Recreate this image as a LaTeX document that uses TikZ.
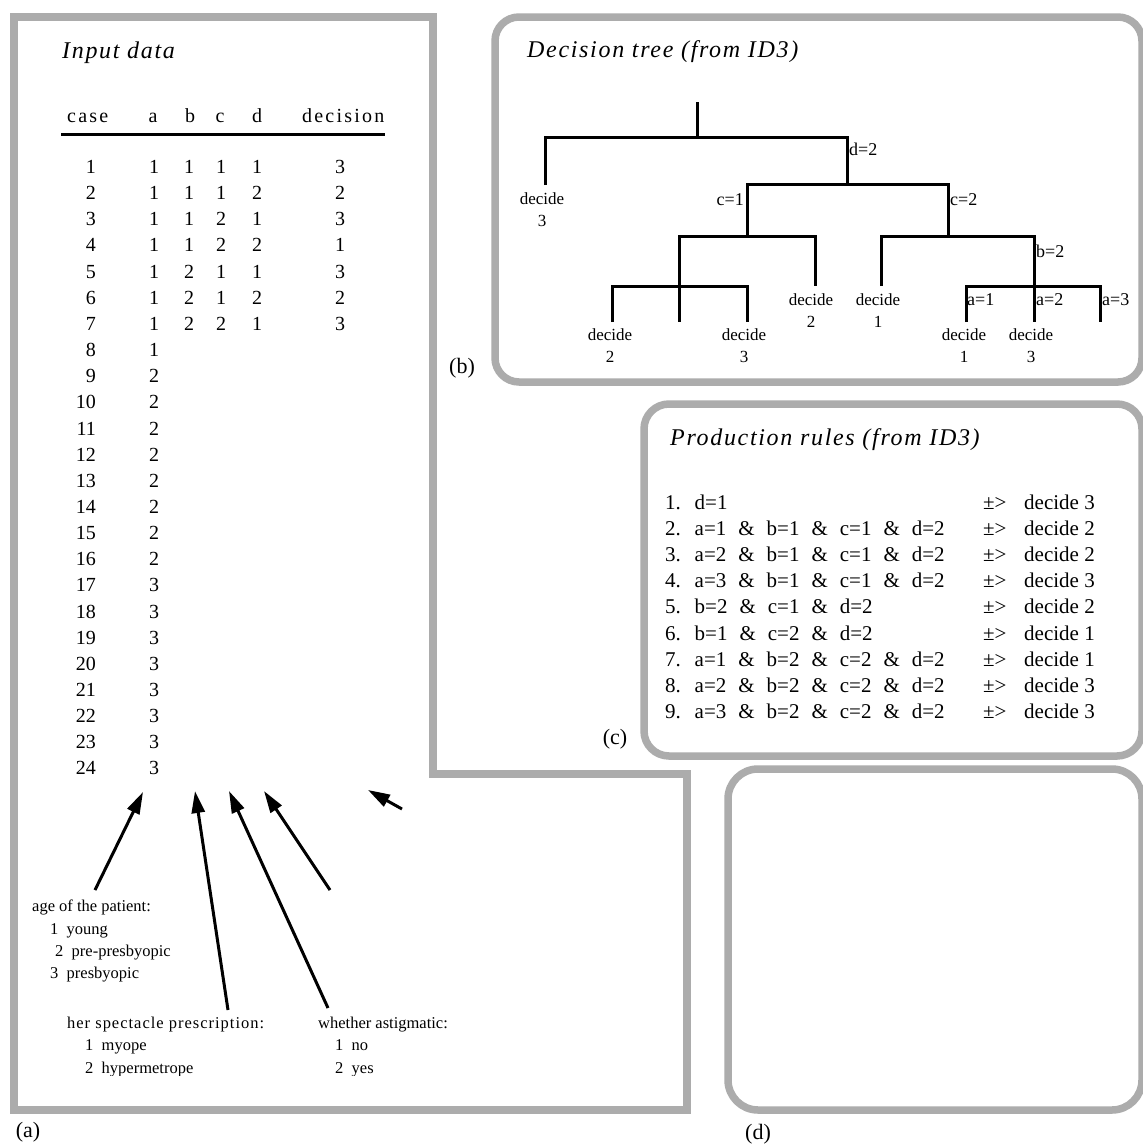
\documentclass[tikz,border=0pt]{standalone}
\usepackage{fontspec}
\setmainfont{Liberation Serif}
\newfontfamily\lsfont[LetterSpace=7]{Liberation Serif}
\newfontfamily\hdfont[LetterSpace=11]{Liberation Serif}
\newfontfamily\spfont[LetterSpace=6]{Liberation Serif}
\usetikzlibrary{arrows.meta}
\definecolor{panelgray}{RGB}{172,172,172}
\begin{document}
\begin{tikzpicture}[x=1pt,y=-1pt,
  panel/.style={draw=panelgray, line width=7.5pt},
  ptitle/.style={anchor=base west, inner sep=0, font=\fontsize{24}{28}\selectfont\lsfont\itshape},
  hdr/.style={anchor=base west, inner sep=0, font=\fontsize{20}{24}\selectfont\hdfont},
  cell/.style={anchor=base, inner sep=0, font=\fontsize{20}{24}\selectfont},
  branch/.style={line width=3pt},
  leaf/.style={align=center, inner sep=0, font=\fontsize{17}{22}\selectfont},
  cond/.style={inner sep=0, font=\fontsize{18}{20}\selectfont},
  note/.style={anchor=base west, inner sep=0, font=\fontsize{16.5}{20}\selectfont},
  rulel/.style={anchor=base west, inner sep=0, font={\fontsize{21}{25}\selectfont\spaceskip=12pt\relax}},
  ruler/.style={anchor=base west, inner sep=0, font=\fontsize{21}{25}\selectfont},
  plabel/.style={inner sep=0, font=\fontsize{22}{26}\selectfont},
  pointer/.style={line width=3pt, -{Triangle[length=22pt,width=13pt]}}
]
\useasboundingbox (0,0) rectangle (1143,1146);
\fill[white] (0,0) rectangle (1143,1146);

% ---------- panels ----------
\draw[panel] (14,17) -- (433,17) -- (433,774) -- (687,774) -- (687,1110) -- (14,1110) -- cycle;
\draw[panel, rounded corners=24pt] (495,17) rectangle (1142,382);
\draw[panel, rounded corners=25pt] (644,404) rectangle (1142,756);
\draw[panel, rounded corners=30pt] (728,769) rectangle (1142,1110);

\node[plabel] (la) at (28,1132) {(a)};
\node[plabel] (lb) at (462,368) {(b)};
\node[plabel] (lc) at (615,739) {(c)};
\node[plabel] (ld) at (758,1134) {(d)};

% ---------- (a) input data ----------
\node[ptitle] (tin) at (62,58) {Input data};
\node[hdr] (hcase) at (67,122) {case};
\node[hdr, anchor=base] (ha) at (153,122) {a};
\node[hdr, anchor=base] (hb) at (190,122) {b};
\node[hdr, anchor=base] (hc) at (220,122) {c};
\node[hdr, anchor=base] (hd) at (257,122) {d};
\node[hdr] (hdec) at (302,122) {decision};
\draw[line width=3pt] (61,134.5) -- (385,134.5);

\foreach \i in {1,...,24}{
  \pgfmathsetmacro\yy{173.5+(\i-1)*26.15}
  \pgfmathtruncatemacro\va{ifthenelse(\i<9,1,ifthenelse(\i<17,2,3))}
  \node[cell, anchor=base east] (case\i) at (96,\yy) {\i};
  \node[cell] (va\i) at (154,\yy) {\va};
}
\foreach \i/\vb/\vc/\vd/\ve in {1/1/1/1/3,2/1/1/2/2,3/1/2/1/3,4/1/2/2/1,5/2/1/1/3,6/2/1/2/2,7/2/2/1/3}{
  \pgfmathsetmacro\yy{173.5+(\i-1)*26.15}
  \node[cell] (vb\i) at (189,\yy) {\vb};
  \node[cell] (vc\i) at (221,\yy) {\vc};
  \node[cell] (vd\i) at (257,\yy) {\vd};
  \node[cell] (ve\i) at (340,\yy) {\ve};
}

% attribute notes
\node[note] (age) at (32,911) {age of the patient:};
\node[note] (age1) at (50,934) {1\enspace young};
\node[note] (age2) at (55,956) {2\enspace pre-presbyopic};
\node[note] (age3) at (50,978) {3\enspace presbyopic};
\begin{scope}
  \clip (20,980) rectangle (600,1075.5);
  \node[note, font=\fontsize{16.5}{20}\selectfont\spfont] (spec) at (67,1028) {her spectacle prescription:};
  \node[note] (spec1) at (85,1050) {1\enspace myope};
  \node[note] (spec2) at (85,1073) {2\enspace hypermetrope};
  \node[note] (ast) at (318,1028) {whether astigmatic:};
  \node[note] (ast1) at (335,1050) {1\enspace no};
  \node[note] (ast2) at (335,1073) {2\enspace yes};
\end{scope}

% pointers
\coordinate (t1) at (95,890);   \coordinate (h1) at (143,792);
\coordinate (t2) at (228,1010); \coordinate (h2) at (195,791);
\coordinate (t3) at (328,1008); \coordinate (h3) at (229,791);
\coordinate (t4) at (330,890);  \coordinate (h4) at (264,791);
\coordinate (t5) at (402,809);  \coordinate (h5) at (368,790);
\draw[pointer] (t1) -- (h1);
\draw[pointer] (t2) -- (h2);
\draw[pointer] (t3) -- (h3);
\draw[pointer] (t4) -- (h4);
\draw[pointer] (t5) -- (h5);

% ---------- (b) decision tree ----------
\node[ptitle] (ttree) at (527,57) {Decision tree (from ID3)};
\coordinate (rt) at (697,102);
\coordinate (r) at (697,137);
\coordinate (l1) at (545,185);
\coordinate (n1) at (847,184);
\coordinate (n2) at (747,236);
\coordinate (n3) at (948,236);
\coordinate (n4) at (679,286);
\coordinate (l2) at (815,286);
\coordinate (m1) at (612,322);
\coordinate (m2) at (679,322);
\coordinate (m3) at (747,322);
\coordinate (l3) at (881,286);
\coordinate (n5) at (1034,286);
\coordinate (x1) at (966,322);
\coordinate (x2) at (1034,322);
\coordinate (x3) at (1100,322);

\draw[branch] (r) -- (rt);
\draw[branch] (l1) |- (r) -| (n1);
\draw[branch] (n2) |- (n1) -| (n3);
\draw[branch] (n4) |- (n2) -| (l2);
\draw[branch] (m1) |- (n4) -| (m3);
\draw[branch] (n4) -- (m2);
\draw[branch] (l3) |- (n3) -| (n5);
\draw[branch] (x1) |- (n5) -| (x3);
\draw[branch] (n5) -- (x2);

\node[cond, anchor=west] (cd2) at (849,149) {d=2};
\node[cond, anchor=east] (cc1) at (744,200) {c=1};
\node[cond, anchor=west] (cc2) at (950,200) {c=2};
\node[cond, anchor=west] (cb2) at (1036,251) {b=2};
\node[cond, anchor=west] (ca1) at (967,300) {a=1};
\node[cond, anchor=west] (ca2) at (1036,300) {a=2};
\node[cond, anchor=west] (ca3) at (1102,300) {a=3};

\node[leaf] (dl1) at (542,210) {decide\\3};
\node[leaf] (dl2) at (811,311) {decide\\2};
\node[leaf] (dl3) at (878,311) {decide\\1};
\node[leaf] (dm1) at (610,346) {decide\\2};
\node[leaf] (dm3) at (744,346) {decide\\3};
\node[leaf] (dx1) at (964,346) {decide\\1};
\node[leaf] (dx2) at (1031,346) {decide\\3};

% ---------- (c) production rules ----------
\node[ptitle] (trules) at (670,445) {Production rules (from ID3)};
\foreach \i/\lhs/\rhs in {
  1/d=1/3,
  2/a=1 \& b=1 \& c=1 \& d=2/2,
  3/a=2 \& b=1 \& c=1 \& d=2/2,
  4/a=3 \& b=1 \& c=1 \& d=2/3,
  5/b=2 \& c=1 \& d=2/2,
  6/b=1 \& c=2 \& d=2/1,
  7/a=1 \& b=2 \& c=2 \& d=2/1,
  8/a=2 \& b=2 \& c=2 \& d=2/3,
  9/a=3 \& b=2 \& c=2 \& d=2/3}{
  \pgfmathsetmacro\yy{509+(\i-1)*26.2}
  \node[rulel] (rl\i) at (665,\yy) {\i. \lhs};
  \node[ruler] (rs\i) at (983,\yy) {±>};
  \node[ruler] (rr\i) at (1024,\yy) {decide \rhs};
}
\end{tikzpicture}
\end{document}
